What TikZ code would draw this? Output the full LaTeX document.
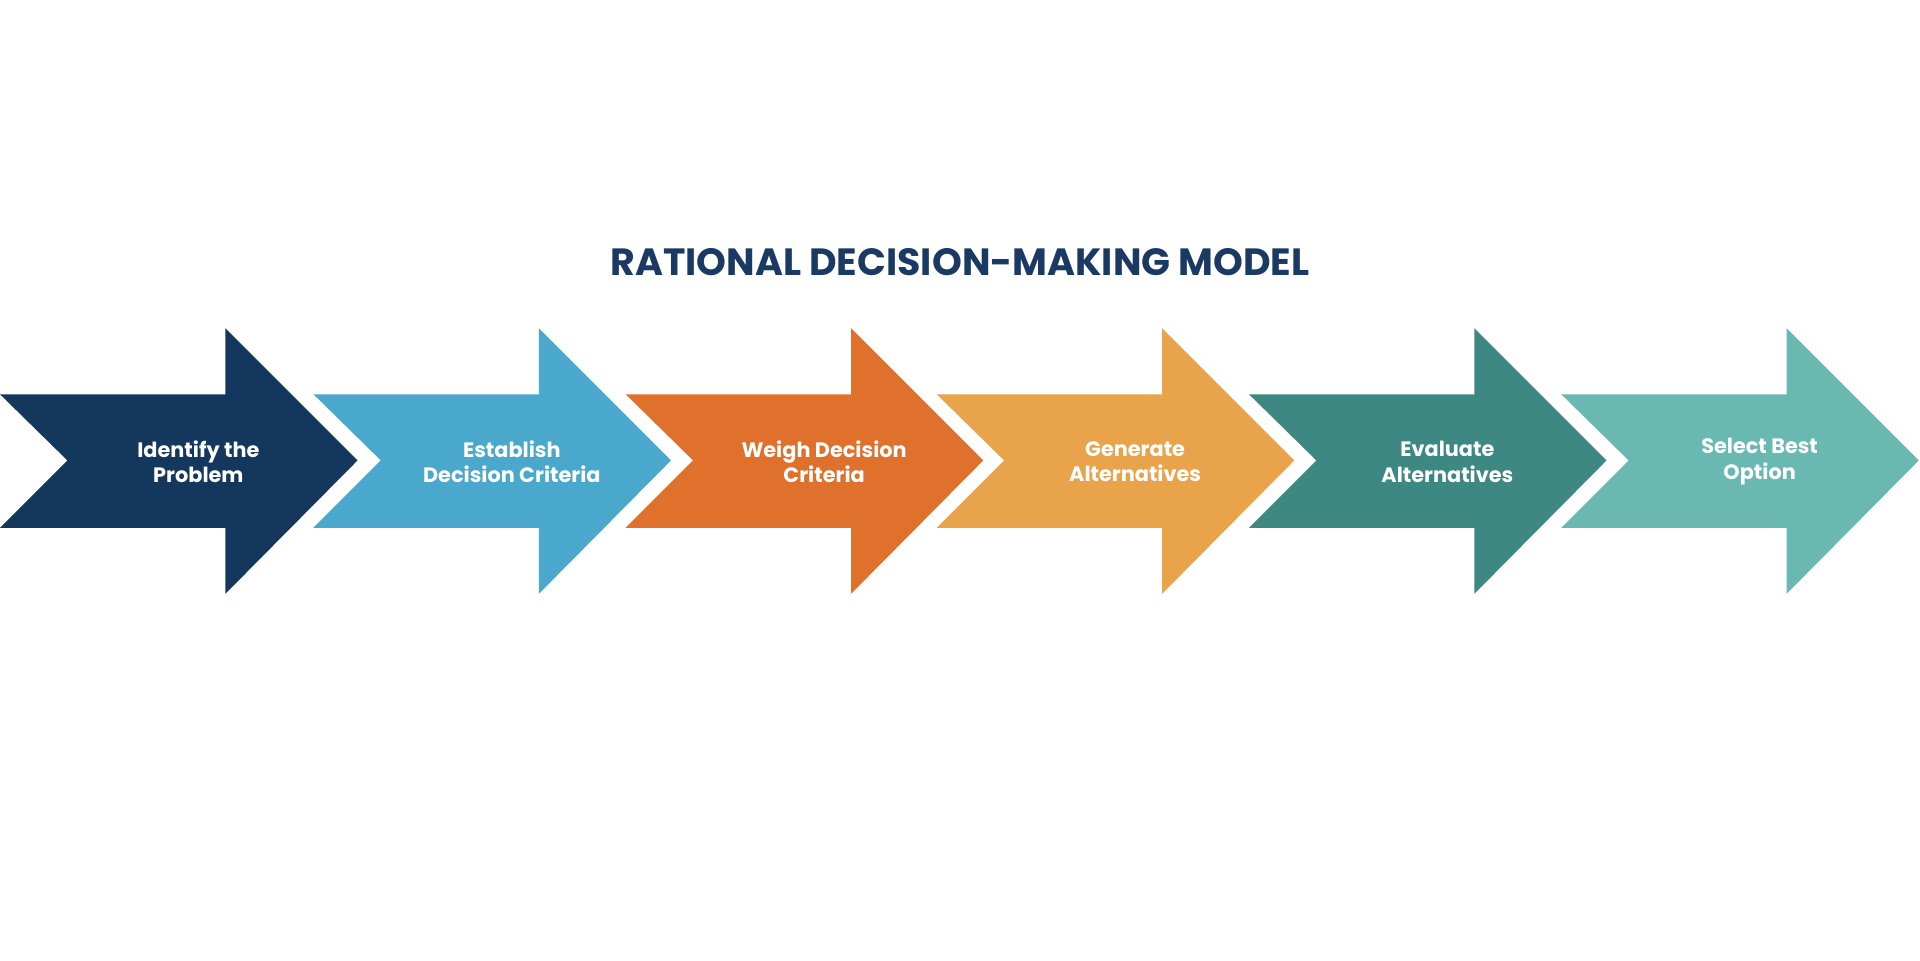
\documentclass[tikz,border=0pt]{standalone}
\usepackage{fontspec}
\setmainfont{Poppins}
\definecolor{c1}{HTML}{14375E}
\definecolor{c2}{HTML}{4AA8CD}
\definecolor{c3}{HTML}{E0712C}
\definecolor{c4}{HTML}{E9A34B}
\definecolor{c5}{HTML}{3D8882}
\definecolor{c6}{HTML}{6AB8B2}
\definecolor{ttl}{HTML}{1B3A63}
\tikzset{lbl/.style={text=white,font=\fontsize{17}{21}\selectfont\bfseries,align=center}}
\begin{document}
\begin{tikzpicture}[x=1pt,y=-1pt]
\useasboundingbox (0,0) rectangle (1568,784);
\node[text=ttl,font=\fontsize{31}{36}\selectfont\bfseries] (title) at (784,214) {RATIONAL DECISION-MAKING MODEL};
\foreach \i/\x/\c/\t in {1/0/c1/{Identify the\\Problem},2/256/c2/{Establish\\Decision Criteria},3/511/c3/{Weigh Decision\\Criteria},4/765/c4/{Generate\\Alternatives},5/1020/c5/{Evaluate\\Alternatives},6/1275/c6/{Select Best\\Option}}{
  \fill[\c] (\x,322) -- (\x+184,322) -- (\x+184,268) -- (\x+292,376) -- (\x+184,485) -- (\x+184,431) -- (\x,431) -- (\x+55,376) -- cycle;
  \node[lbl] (a\i) at (\x+162,377) {\t};
}
\end{tikzpicture}
\end{document}
